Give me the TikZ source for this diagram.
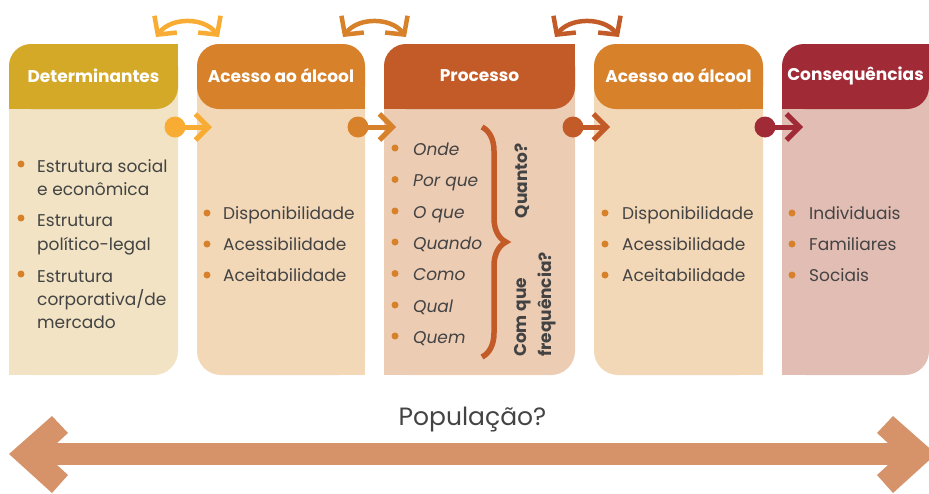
\documentclass[tikz,border=0pt]{standalone}
\usepackage{fontspec}
\setmainfont{Poppins}
\usetikzlibrary{arrows.meta,decorations.pathreplacing}
\definecolor{hA}{HTML}{D5A928}
\definecolor{bA}{HTML}{F1E3C3}
\definecolor{hB}{HTML}{D7812A}
\definecolor{bB}{HTML}{F3D8B8}
\definecolor{hC}{HTML}{C35B28}
\definecolor{bC}{HTML}{EDCCB4}
\definecolor{hE}{HTML}{A02A36}
\definecolor{bE}{HTML}{E2BDB3}
\definecolor{arA}{HTML}{F9AC33}
\definecolor{txt}{HTML}{434343}
\definecolor{bul}{HTML}{D7812A}
\definecolor{popc}{HTML}{D6936A}
% box with rounded TL, BR header and rounded BR body
\newcommand\oddbox[4]{%
  \fill[#4, rounded corners=24pt] (#1,44) rectangle (#2,375);
  \fill[#4] ({#2-40},44) rectangle (#2,84);
  \fill[#4] (#1,335) rectangle ({#1+40},375);
  \fill[#3, rounded corners=22pt] (#1,44) rectangle (#2,109);
  \fill[#3] ({#2-30},44) rectangle (#2,74);
  \fill[#3] (#1,79) rectangle ({#1+30},109);
}
% box with rounded TL, TR, BL header and rounded BL body
\newcommand\evenbox[4]{%
  \fill[#4, rounded corners=24pt] (#1,44) rectangle (#2,375);
  \fill[#4] ({#2-40},335) rectangle (#2,375);
  \fill[#3, rounded corners=22pt] (#1,44) rectangle (#2,109);
  \fill[#3] ({#2-30},79) rectangle (#2,109);
}
\begin{document}
\begin{tikzpicture}[x=1pt,y=-1pt,
  hdr/.style={font=\fontsize{17}{20}\selectfont\bfseries, text=white, inner sep=0pt},
  item/.style={font=\fontsize{17}{20}\selectfont, text=txt, anchor=base west, inner sep=0pt},
  pitem/.style={item, font=\fontsize{17}{20}\selectfont\itshape},
  bullet/.style={circle, fill=bul, inner sep=0pt, minimum size=7pt},
  flow/.style={line width=5pt, -{Straight Barb[length=13pt,width=26pt]}},
  swaparrow/.style={line width=4.5pt, {Straight Barb[length=13pt,width=28pt]}-{Straight Barb[length=13pt,width=28pt]}},
  dotc/.style={circle, inner sep=0pt, minimum size=21pt},
  rot/.style={font=\fontsize{17}{25}\selectfont\bfseries, text=txt, rotate=90, inner sep=0pt},
]
\useasboundingbox (0,0) rectangle (929,493);

% boxes
\oddbox{9}{178}{hA}{bA}
\evenbox{197}{365}{hB}{bB}
\oddbox{384}{575}{hC}{bC}
\evenbox{594}{763}{hB}{bB}
\oddbox{782}{929}{hE}{bE}

% headers
\node[hdr] (h1) at (93.5,76) {Determinantes};
\node[hdr] (h2) at (281,76) {Acesso ao álcool};
\node[hdr] (h3) at (479.5,76) {Processo};
\node[hdr] (h4) at (678.5,76) {Acesso ao álcool};
\node[hdr] (h5) at (855.5,76) {Consequências};

% flow arrows
\node[dotc, fill=arA] (d1) at (175,127) {};
\coordinate (t1) at (212,127);
\draw[flow, arA] (d1.center) -- (t1);
\node[dotc, fill=hB] (d2) at (358,127) {};
\coordinate (t2) at (396,127);
\draw[flow, hB] (d2.center) -- (t2);
\node[dotc, fill=hC] (d3) at (573,127) {};
\coordinate (t3) at (610,127);
\draw[flow, hC] (d3.center) -- (t3);
\node[dotc, fill=hE] (d4) at (765,127) {};
\coordinate (t4) at (803,127);
\draw[flow, hE] (d4.center) -- (t4);

% swap arrows
\coordinate (s1a) at (156,37); \coordinate (s1b) at (219,37);
\draw[swaparrow, arA] (s1a) .. controls (171,17) and (204,17) .. (s1b);
\coordinate (s2a) at (343,37); \coordinate (s2b) at (406,37);
\draw[swaparrow, hB] (s2a) .. controls (358,17) and (391,17) .. (s2b);
\coordinate (s3a) at (555,37); \coordinate (s3b) at (619,37);
\draw[swaparrow, hC] (s3a) .. controls (570,17) and (604,17) .. (s3b);

% box 1 items
\node[bullet] (b11) at (21,164) {};
\node[item] (i11a) at (37,172) {Estrutura social};
\node[item] (i11b) at (37,195) {e econômica};
\node[bullet] (b12) at (21,218) {};
\node[item] (i12a) at (37,226) {Estrutura};
\node[item] (i12b) at (37,250) {político-legal};
\node[bullet] (b13) at (21,274) {};
\node[item] (i13a) at (37,282) {Estrutura};
\node[item] (i13b) at (37,305) {corporativa/de};
\node[item] (i13c) at (37,328) {mercado};

% box 2 items
\node[bullet] (b21) at (207,213) {};
\node[item] (i21) at (223,219) {Disponibilidade};
\node[bullet] (b22) at (207,244) {};
\node[item] (i22) at (223,250) {Acessibilidade};
\node[bullet] (b23) at (207,275) {};
\node[item] (i23) at (223,281) {Aceitabilidade};

% box 3 items
\node[bullet] (b31) at (395,148) {};
\node[pitem] (i31) at (413,155) {Onde};
\node[bullet] (b32) at (395,179.5) {};
\node[pitem] (i32) at (413,186.5) {Por que};
\node[bullet] (b33) at (395,211) {};
\node[pitem] (i33) at (413,218) {O que};
\node[bullet] (b34) at (395,242) {};
\node[pitem] (i34) at (413,249) {Quando};
\node[bullet] (b35) at (395,273.5) {};
\node[pitem] (i35) at (413,280.5) {Como};
\node[bullet] (b36) at (395,305) {};
\node[pitem] (i36) at (413,312) {Qual};
\node[bullet] (b37) at (395,336) {};
\node[pitem] (i37) at (413,343) {Quem};
\coordinate (br1) at (482,127);
\coordinate (br2) at (482,357);
\draw[hC, line width=5.5pt, decorate, decoration={brace, amplitude=24pt}] (br1) -- (br2);
\node[rot] (q1) at (522,181) {Quanto?};
\node[rot, anchor=west, align=left] (q2) at (535,357) {Com que\\frequência?};

% box 4 items
\node[bullet] (b41) at (605,213) {};
\node[item] (i41) at (622,219) {Disponibilidade};
\node[bullet] (b42) at (605,244) {};
\node[item] (i42) at (622,250) {Acessibilidade};
\node[bullet] (b43) at (605,275) {};
\node[item] (i43) at (622,281) {Aceitabilidade};

% box 5 items
\node[bullet] (b51) at (792,213) {};
\node[item] (i51) at (809,219) {Individuais};
\node[bullet] (b52) at (792,244) {};
\node[item] (i52) at (809,250) {Familiares};
\node[bullet] (b53) at (792,275) {};
\node[item] (i53) at (809,281) {Sociais};

% population arrow
\fill[popc] (9,454) -- (52,416) -- (68,433) -- (45,454) -- (68,475) -- (52,493) -- cycle;
\fill[popc] (936,454) -- (893,416) -- (877,433) -- (900,454) -- (877,475) -- (893,493) -- cycle;
\fill[popc] (44,443) rectangle (901,465);
\node[font=\fontsize{25}{30}\selectfont, text=txt, anchor=base] (pop) at (472.5,425) {População?};
\end{tikzpicture}
\end{document}
